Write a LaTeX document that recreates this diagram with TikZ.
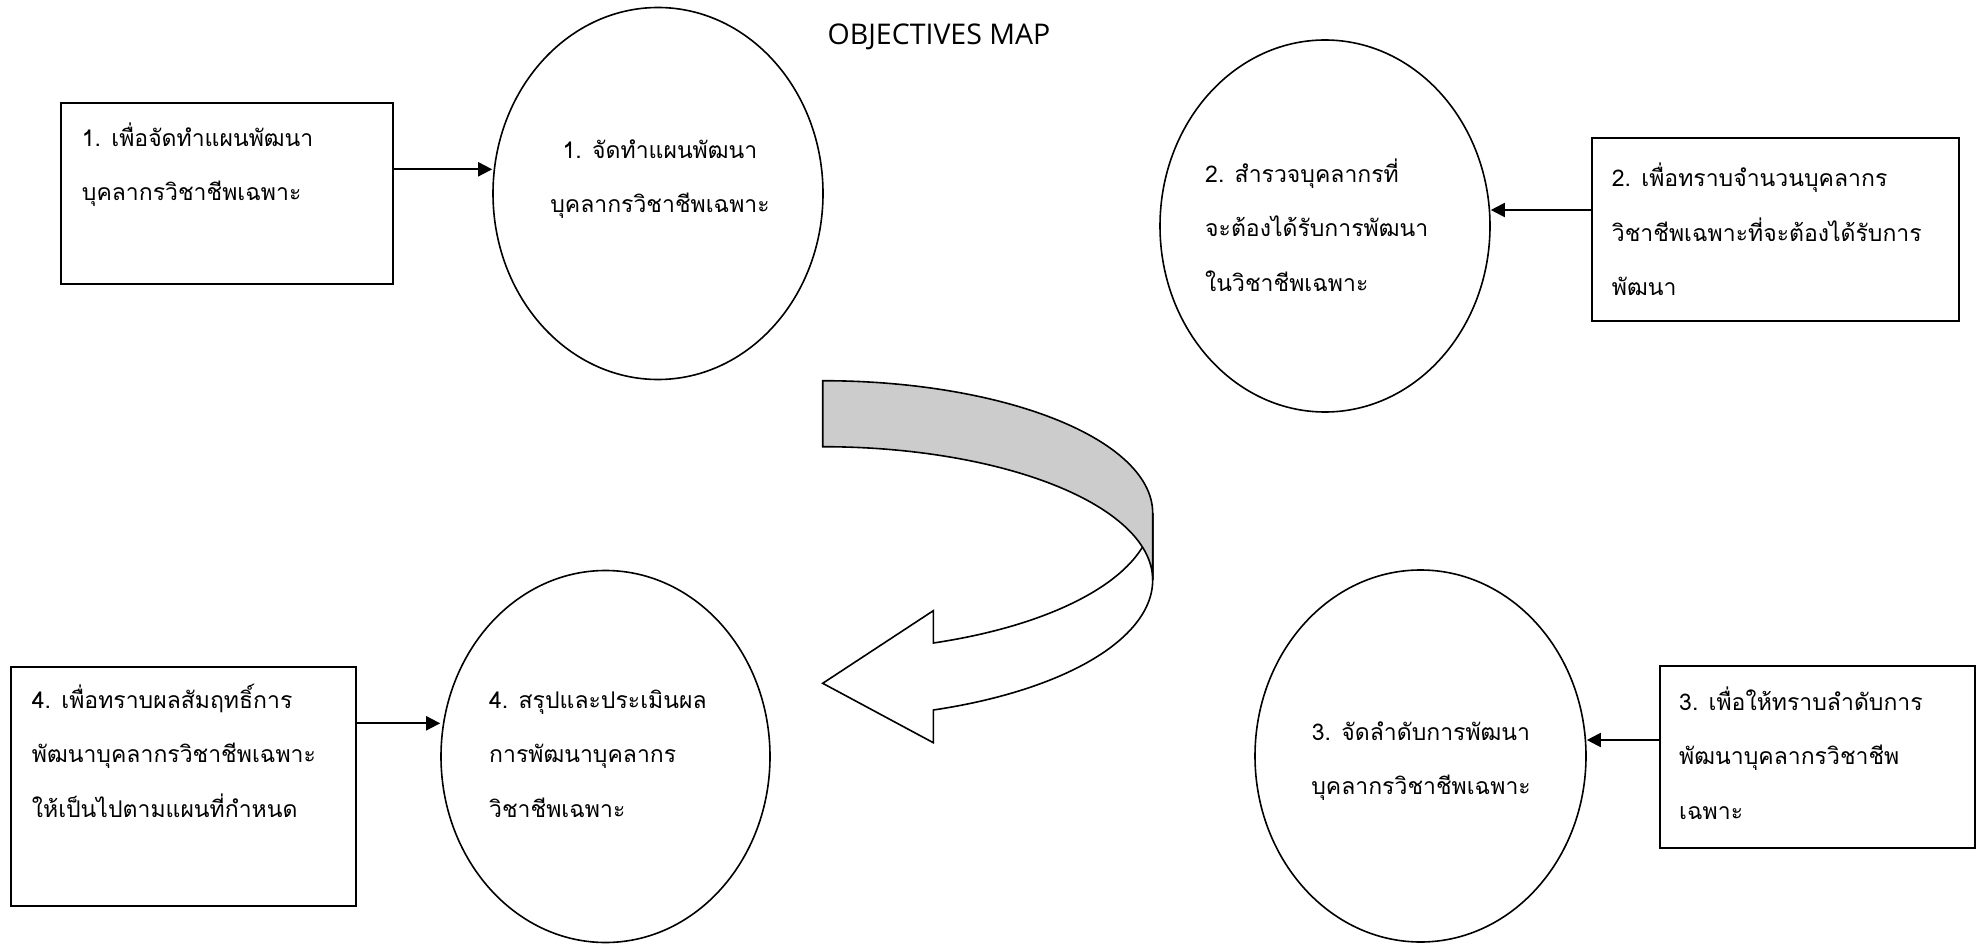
\documentclass[tikz,border=0pt]{standalone}
\usepackage{fontspec}
\setmainfont{Open Sans}
\newfontfamily\thaifont[Script=Thai]{Loma}
\usetikzlibrary{shapes.geometric,arrows.meta}
\newcommand\thaistrut{\rule{0pt}{30pt}}
\begin{document}
\begin{tikzpicture}[x=1pt,y=-1pt,
  rectbox/.style={draw=black, line width=1.8pt, rectangle, inner sep=0pt},
  oval/.style={draw=black, line width=1.6pt, ellipse, inner sep=0pt, minimum width=330pt, minimum height=372pt},
  conn/.style={line width=2pt, -{Triangle[length=14pt,width=14pt]}},
  txt/.style={font=\thaifont\fontsize{23}{54.5}\selectfont, inner sep=0pt, align=left, anchor=north west},
  ctxt/.style={txt, align=center, anchor=north},
  bandline/.style={line width=1.6pt, line join=miter}]
\useasboundingbox (0,0) rectangle (1982,944);
\fill[white] (0,0) rectangle (1982,944);

% title
\node[font=\fontsize{28.5}{32}\selectfont, anchor=base, inner sep=0pt] (title) at (939,44.3) {OBJECTIVES MAP};

% boxes
\node[rectbox, minimum width=332pt, minimum height=181.3pt] (box1) at (226.7,193.3) {};
\node[rectbox, minimum width=367.3pt, minimum height=182.4pt] (box2) at (1775.3,229.5) {};
\node[rectbox, minimum width=315pt, minimum height=182.3pt] (box3) at (1817.5,757.2) {};
\node[rectbox, minimum width=344.7pt, minimum height=239pt] (box4) at (183.3,786.2) {};

% ellipses
\node[oval] (e1) at (658,193.5) {};
\node[oval] (e2) at (1325,226) {};
\node[oval, minimum width=331pt] (e3) at (1420.5,756) {};
\node[oval, minimum width=329pt] (e4) at (605.5,756.5) {};

% texts
\node[txt] (t1) at (81.7,116) {\thaistrut 1. เพื่อจัดทำแผนพัฒนา\\บุคลากรวิชาชีพเฉพาะ};
\node[ctxt] (te1) at (660,128) {\thaistrut 1. จัดทำแผนพัฒนา\\บุคลากรวิชาชีพเฉพาะ};
\node[txt] (te2) at (1205,152) {\thaistrut 2. สำรวจบุคลากรที่\\จะต้องได้รับการพัฒนา\\ในวิชาชีพเฉพาะ};
\node[txt] (t2) at (1611.7,156.7) {\thaistrut 2. เพื่อทราบจำนวนบุคลากร\\วิชาชีพเฉพาะที่จะต้องได้รับการ\\พัฒนา};
\node[ctxt] (te3) at (1421,710) {\thaistrut 3. จัดลำดับการพัฒนา\\บุคลากรวิชาชีพเฉพาะ};
\node[txt] (t3) at (1679,680) {\thaistrut 3. เพื่อให้ทราบลำดับการ\\พัฒนาบุคลากรวิชาชีพ\\เฉพาะ};
\node[txt] (te4) at (489,678) {\thaistrut 4. สรุปและประเมินผล\\การพัฒนาบุคลากร\\วิชาชีพเฉพาะ};
\node[txt] (t4) at (31.7,678) {\thaistrut 4. เพื่อทราบผลสัมฤทธิ์การ\\พัฒนาบุคลากรวิชาชีพเฉพาะ\\ให้เป็นไปตามแผนที่กำหนด};

% connectors
\coordinate (s1) at ([yshift=24pt]box1.east);
\draw[conn] (s1) -- (s1 -| e1.west);
\coordinate (s2) at ([yshift=19.5pt]box2.west);
\draw[conn] (s2) -- (s2 -| e2.east);
\coordinate (s3) at ([yshift=17.2pt]box3.west);
\draw[conn] (s3) -- (s3 -| e3.east);
\coordinate (s4) at ([yshift=62.9pt]box4.east);
\draw[conn] (s4) -- (s4 -| e4.west);

% curved arrow (lower white part first)
\draw[bandline, fill=white] (1152.7,513)
  -- plot[domain=0:70.4,samples=60] ({822.7+330*cos(\x)},{513+138*sin(\x)})
  -- (933.3,610.7) -- (822.7,683.3) -- (933.3,742.7)
  -- plot[domain=70.4:0,samples=60] ({822.7+330*cos(\x)},{580+138*sin(\x)})
  -- cycle;
\draw[bandline, fill=black!20] (822.7,380.7)
  -- plot[domain=-90:0,samples=60] ({822.7+330*cos(\x)},{513+132.3*sin(\x)})
  -- plot[domain=0:-90,samples=60] ({822.7+330*cos(\x)},{580+133.3*sin(\x)})
  -- cycle;
\end{tikzpicture}
\end{document}
